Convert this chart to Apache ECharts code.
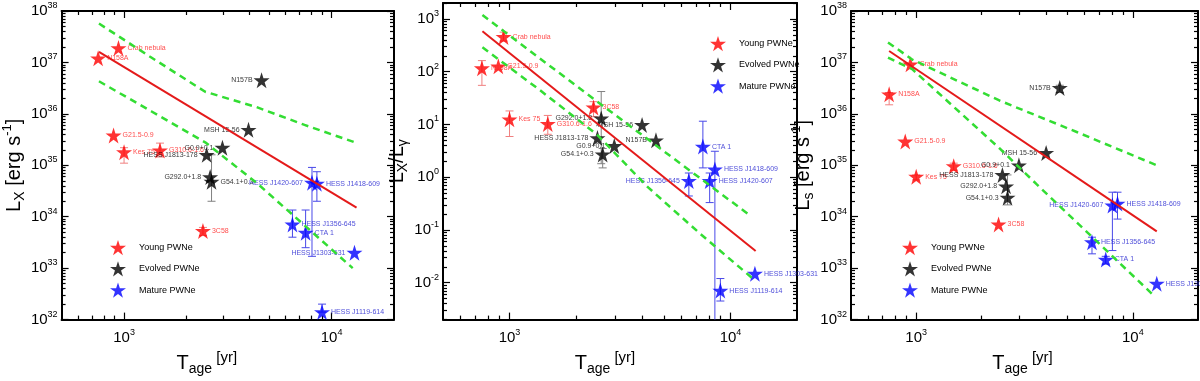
<!DOCTYPE html>
<html>
<head>
<meta charset="utf-8">
<script src="https://cdn.jsdelivr.net/npm/echarts@6/dist/echarts.min.js"></script>
<style>
  html, body { margin: 0; background: #fff; }
  #chart { width: 1200px; height: 381px; }
</style>
</head>
<body>
<div id="chart"></div>
<script>
// ---- data ----
const youngNames = ['Crab nebula', 'N158A', 'G21.5-0.9', 'Kes 75', 'G310.6-1.6', '3C58']
const youngAge = [940, 750, 890, 1000, 1490, 2400]
const youngLx = [1.9e37, 1.2e37, 3.8e35, 1.8e35, 1.95e35, 5.3e33]
const youngRatio = [455, 116, 126, 12.5, 10.2, 21]
const youngLs = [9.2e36, 2.4e36, 2.9e35, 6.0e34, 9.6e34, 7.1e33]
const youngLxErr = [null, null, null, [1.1e35, 2.2e35], [1.45e35, 2.7e35], [4.3e33, 6.2e33]]
const youngRatioErr = [[380, 560], [55, 162], null, [5.9, 18], [6.5, 14.8], [14, 27]]
const youngLsErr = [null, [1.5e36, 2.6e36], null, [5.2e34, 6.5e34], [8e34, 1.1e35], null]

const evolvedNames = ['N157B', 'MSH 15-56', 'G0.9+0.1', 'HESS J1813-178', 'G292.0+1.8', 'G54.1+0.3']
const evolvedAge = [4600, 3980, 2980, 2500, 2600, 2640]
const evolvedLx = [4.5e36, 4.9e35, 2.2e35, 1.6e35, 5.9e34, 4.8e34]
const evolvedRatio = [5.0, 9.8, 3.9, 5.5, 13, 2.7]
const evolvedLs = [3.2e36, 1.74e35, 1.0e35, 6.5e34, 3.9e34, 2.35e34]
const evolvedLxErr = [null, null, null, null, null, [2.0e34, 1.6e35]]
const evolvedRatioErr = [null, null, null, null, [1.8, 42], [1.5, 3.5]]
const evolvedLsErr = [[2.6e36, 3.6e36], null, null, null, null, [1.7e34, 6.5e34]]

const matureNames = ['HESS J1420-607', 'HESS J1418-609', 'HESS J1356-645', 'CTA 1', 'HESS J1303-631', 'HESS J1119-614']
const matureAge = [8050, 8500, 6480, 7500, 12900, 9000]
const matureLx = [4.6e34, 4.4e34, 7.1e33, 4.9e33, 2.0e33, 1.4e32]
const matureRatio = [0.85, 1.4, 0.85, 3.8, 0.0148, 0.0071]
const matureLs = [1.66e34, 1.8e34, 3.2e33, 1.47e33, 5.0e32, null]
const matureLxErr = [[1.7e33, 9.1e34], [2.0e34, 7.5e34], [4.0e33, 1.35e34], [2.5e33, 1.35e34], null, [1.4e32, 2.0e32]]
const matureRatioErr = [[0.33, 1.2], [0.001, 3.1], [0.44, 1.2], [1.5, 11.5], null, [0.0045, 0.012]]
const matureLsErr = [[2.2e33, 3.0e34], [9e33, 3.0e34], [1.9e33, 4e33], [1.2e33, 1.7e33], null, null]

// fits and confidence bands
const fitLxT = [757, 13200]
const fitLx = [1.6e37, 1.5e34]
const upLxT = [757, 1336, 2460, 4340, 7410, 12940]
const upLx = [5.7e37, 1.29e37, 2.69e36, 1.36e36, 6.1e35, 2.8e35]
const lowLxT = [757, 1365, 2460, 4340, 7410, 12650]
const lowLx = [4.3e36, 1.1e36, 2.8e35, 4.6e34, 6.8e33, 1.0e33]

const fitRatioT = [754, 13000]
const fitRatio = [585, 0.04]
const upRatioT = [754, 2485, 12330]
const upRatio = [1180, 27.4, 0.185]
const lowRatioT = [754, 1369, 2485, 4240, 7310, 12730]
const lowRatio = [289, 45, 6.45, 0.64, 0.084, 0.0116]

const fitLsT = [750, 12900]
const fitLs = [1.67e37, 5.2e33]
const upLsT = [741, 958, 2421, 5510, 12900]
const upLs = [2.45e37, 1.14e37, 1.82e36, 4.44e35, 1.0e35]
const lowLsT = [741, 958, 2421, 3594, 12650]
const lowLs = [1.24e37, 7.4e36, 2.15e35, 4.3e34, 2.8e32]

// ticks
const xMajor = [1000, 10000]
const xMinor = [600, 700, 800, 900, 2000, 3000, 4000, 5000, 6000, 7000, 8000, 9000]

// labels drawn on the left of the star
const leftLx = ['N157B', 'MSH 15-56', 'G0.9+0.1', 'HESS J1813-178', 'G292.0+1.8', 'HESS J1420-607', 'HESS J1303-631']
const leftRatio = ['G292.0+1.8', 'HESS J1813-178', 'G0.9+0.1', 'G54.1+0.3', 'MSH 15-56', 'N157B', 'HESS J1356-645']
const leftLs = ['N157B', 'MSH 15-56', 'G0.9+0.1', 'HESS J1813-178', 'G292.0+1.8', 'G54.1+0.3', 'HESS J1420-607']

const FONT = '"Liberation Sans Narrow", "Liberation Sans", Arial, sans-serif'
const STAR = 'path://M50,0L61.2,34.5L97.6,34.5L68.2,55.9L79.4,90.5L50,69.1L20.6,90.5L31.8,55.9L2.4,34.5L38.8,34.5Z'
const groups = [
  { name: 'Young PWNe', color: '#ff0000', text: '#ff2020', err: '#f08080' },
  { name: 'Evolved PWNe', color: '#000000', text: '#000000', err: '#808080' },
  { name: 'Mature PWNe', color: '#0000ff', text: '#2020d0', err: '#4848e8' }
]

function decades (lo, hi) {
  const a = []
  for (let e = lo; e <= hi; e++) a.push(Math.pow(10, e))
  return a
}
function minors (lo, hi) {
  const a = []
  for (let e = lo; e < hi; e++) for (let k = 2; k <= 9; k++) a.push(k * Math.pow(10, e))
  return a
}
const powLabel = v => '{b|10}{e|' + Math.round(Math.log10(v)) + '}'
const powRich = {
  b: { fontSize: 15, fontFamily: FONT, color: '#000', lineHeight: 20 },
  e: { fontSize: 9, fontFamily: FONT, color: '#000', verticalAlign: 'top', lineHeight: 10 }
}
const line2 = { color: '#000', width: 2 }
const tick = { color: '#000', width: 1.2 }

const panels = [
  {
    grid: { left: 48, top: 11, width: 346, height: 326 },
    yRange: [32, 38],
    vals: [youngLx, evolvedLx, matureLx],
    errs: [youngLxErr, evolvedLxErr, matureLxErr],
    fit: [fitLxT, fitLx], up: [upLxT, upLx], low: [lowLxT, lowLx],
    left: leftLx,
    yName: '{b|L}{s|X}{b| [erg s}{p|-1}{b|]}', yGap: 24,
    xPad: [0, 42, 0, 0],
    legend: [105, 235]
  },
  {
    grid: { left: 443, top: 3, width: 354, height: 335 },
    yRange: [-2.699, 3.301], yMin: 0.002, yMax: 2000,
    vals: [youngRatio, evolvedRatio, matureRatio],
    errs: [youngRatioErr, evolvedRatioErr, matureRatioErr],
    fit: [fitRatioT, fitRatio], up: [upRatioT, upRatio], low: [lowRatioT, lowRatio],
    left: leftRatio,
    yName: '{b|L}{s|X}{b|/L}{s|γ}', yGap: 22,
    xPad: [0, 30, 0, 0],
    legend: [705, 31]
  },
  {
    grid: { left: 851, top: 11, width: 347, height: 324 },
    yRange: [32, 38],
    vals: [youngLs, evolvedLs, matureLs],
    errs: [youngLsErr, evolvedLsErr, matureLsErr],
    fit: [fitLsT, fitLs], up: [upLsT, upLs], low: [lowLsT, lowLs],
    left: leftLs,
    yName: '{b|L}{s|s}{b| [erg s}{p|-1}{b|]}', yGap: 22,
    xPad: [0, 4, 0, 0],
    legend: [897, 235]
  }
]

const nameRich = {
  b: { fontSize: 20, fontFamily: FONT, color: '#000', lineHeight: 26 },
  s: { fontSize: 14, fontFamily: FONT, color: '#000', verticalAlign: 'bottom', lineHeight: 14 },
  p: { fontSize: 13, fontFamily: FONT, color: '#000', verticalAlign: 'top', lineHeight: 13 },
  u: { fontSize: 15, fontFamily: FONT, color: '#000', verticalAlign: 'top', lineHeight: 18 }
}

const ages = [youngAge, evolvedAge, matureAge]
const names = [youngNames, evolvedNames, matureNames]

const grid = []
const xAxis = []
const yAxis = []
const series = []
const legend = []

function errorBar (color) {
  return function (params, api) {
    const x = api.value(0)
    const top = api.coord([x, api.value(2)])
    const bot = api.coord([x, api.value(1)])
    const w = 4
    const st = { stroke: color, lineWidth: 1 }
    return {
      type: 'group',
      children: [
        { type: 'line', shape: { x1: top[0], y1: top[1], x2: bot[0], y2: bot[1] }, style: st },
        { type: 'line', shape: { x1: top[0] - w, y1: top[1], x2: top[0] + w, y2: top[1] }, style: st },
        { type: 'line', shape: { x1: bot[0] - w, y1: bot[1], x2: bot[0] + w, y2: bot[1] }, style: st }
      ]
    }
  }
}

panels.forEach((p, gi) => {
  grid.push(p.grid)
  const xb = { type: 'log', gridIndex: gi, min: 500, max: 20000, splitLine: { show: false } }
  xAxis.push(
    Object.assign({}, xb, {
      position: 'bottom',
      axisLine: { show: true, lineStyle: line2 },
      axisTick: { show: true, inside: true, length: 7, customValues: xMajor, lineStyle: tick },
      axisLabel: { customValues: xMajor, formatter: powLabel, rich: powRich, margin: 8 },
      name: '{b|T}{s|age}{u| [yr]}',
      nameLocation: 'middle',
      nameGap: 18,
      nameTextStyle: { rich: nameRich, padding: p.xPad }
    }),
    Object.assign({}, xb, {
      position: 'bottom', axisLine: { show: false },
      axisTick: { show: true, inside: true, length: 4, customValues: xMinor, lineStyle: tick },
      axisLabel: { show: false }
    }),
    Object.assign({}, xb, {
      position: 'top', axisLine: { show: true, lineStyle: line2 },
      axisTick: { show: true, inside: true, length: 7, customValues: xMajor, lineStyle: tick },
      axisLabel: { show: false }
    }),
    Object.assign({}, xb, {
      position: 'top', axisLine: { show: false },
      axisTick: { show: true, inside: true, length: 4, customValues: xMinor, lineStyle: tick },
      axisLabel: { show: false }
    })
  )
  const lo = Math.ceil(p.yRange[0])
  const hi = Math.floor(p.yRange[1])
  const yMaj = decades(lo, hi)
  const yMin = minors(lo - 1, hi + 1)
  const yb = {
    type: 'log', gridIndex: gi,
    min: p.yMin || Math.pow(10, p.yRange[0]),
    max: p.yMax || Math.pow(10, p.yRange[1]),
    splitLine: { show: false }
  }
  yAxis.push(
    Object.assign({}, yb, {
      position: 'left',
      axisLine: { show: true, lineStyle: line2 },
      axisTick: { show: true, inside: true, length: 7, customValues: yMaj, lineStyle: tick },
      axisLabel: { customValues: yMaj, formatter: powLabel, rich: powRich, margin: 4 },
      name: p.yName,
      nameLocation: 'middle',
      nameRotate: 90,
      nameGap: p.yGap,
      nameTextStyle: { rich: nameRich }
    }),
    Object.assign({}, yb, {
      position: 'left', axisLine: { show: false },
      axisTick: { show: true, inside: true, length: 4, customValues: yMin, lineStyle: tick },
      axisLabel: { show: false }
    }),
    Object.assign({}, yb, {
      position: 'right', axisLine: { show: true, lineStyle: line2 },
      axisTick: { show: true, inside: true, length: 7, customValues: yMaj, lineStyle: tick },
      axisLabel: { show: false }
    }),
    Object.assign({}, yb, {
      position: 'right', axisLine: { show: false },
      axisTick: { show: true, inside: true, length: 4, customValues: yMin, lineStyle: tick },
      axisLabel: { show: false }
    })
  )
  const ax = { xAxisIndex: gi * 4, yAxisIndex: gi * 4 }

  groups.forEach((g, k) => {
    const errData = []
    p.errs[k].forEach((e, i) => { if (e) errData.push([ages[k][i], e[0], e[1]]) })
    series.push(Object.assign({
      type: 'custom', name: 'err' + gi + k, renderItem: errorBar(g.err),
      data: errData, clip: true, z: 2, silent: true
    }, ax))
    const data = []
    p.vals[k].forEach((v, i) => {
      if (v == null) return
      const nm = names[k][i]
      data.push({
        name: nm,
        value: [ages[k][i], v],
        label: { position: p.left.indexOf(nm) >= 0 ? 'left' : 'right' }
      })
    })
    series.push(Object.assign({
      type: 'scatter', name: g.name, symbol: STAR, symbolSize: 16,
      itemStyle: { color: g.color },
      label: { show: true, formatter: '{b}', color: g.text, fontSize: 7, fontFamily: FONT, distance: 1 },
      data: data, z: 3
    }, ax))
  })

  const pair = (t, v) => t.map((x, i) => [x, v[i]])
  series.push(Object.assign({
    type: 'line', name: 'fit' + gi, data: pair(p.fit[0], p.fit[1]), symbol: 'none',
    lineStyle: { color: '#e41a1a', width: 2 }, z: 4, silent: true
  }, ax))
  ;[p.up, p.low].forEach((b, j) => {
    series.push(Object.assign({
      type: 'line', name: 'band' + gi + j, data: pair(b[0], b[1]), symbol: 'none',
      lineStyle: { color: '#33dd33', width: 2.5, type: [7, 5] }, z: 4, silent: true
    }, ax))
  })

  legend.push({
    left: p.legend[0], top: p.legend[1], orient: 'vertical',
    itemWidth: 16, itemHeight: 16, itemGap: 6, icon: STAR, selectedMode: false,
    data: groups.map(g => g.name),
    textStyle: { fontSize: 9, fontFamily: FONT, color: '#000', padding: [0, 0, 0, 8] }
  })
})

const chart = echarts.init(document.getElementById('chart'))
chart.setOption({
  animation: false,
  backgroundColor: '#fff',
  grid: grid,
  xAxis: xAxis,
  yAxis: yAxis,
  legend: legend,
  series: series
})
</script>
</body>
</html>
